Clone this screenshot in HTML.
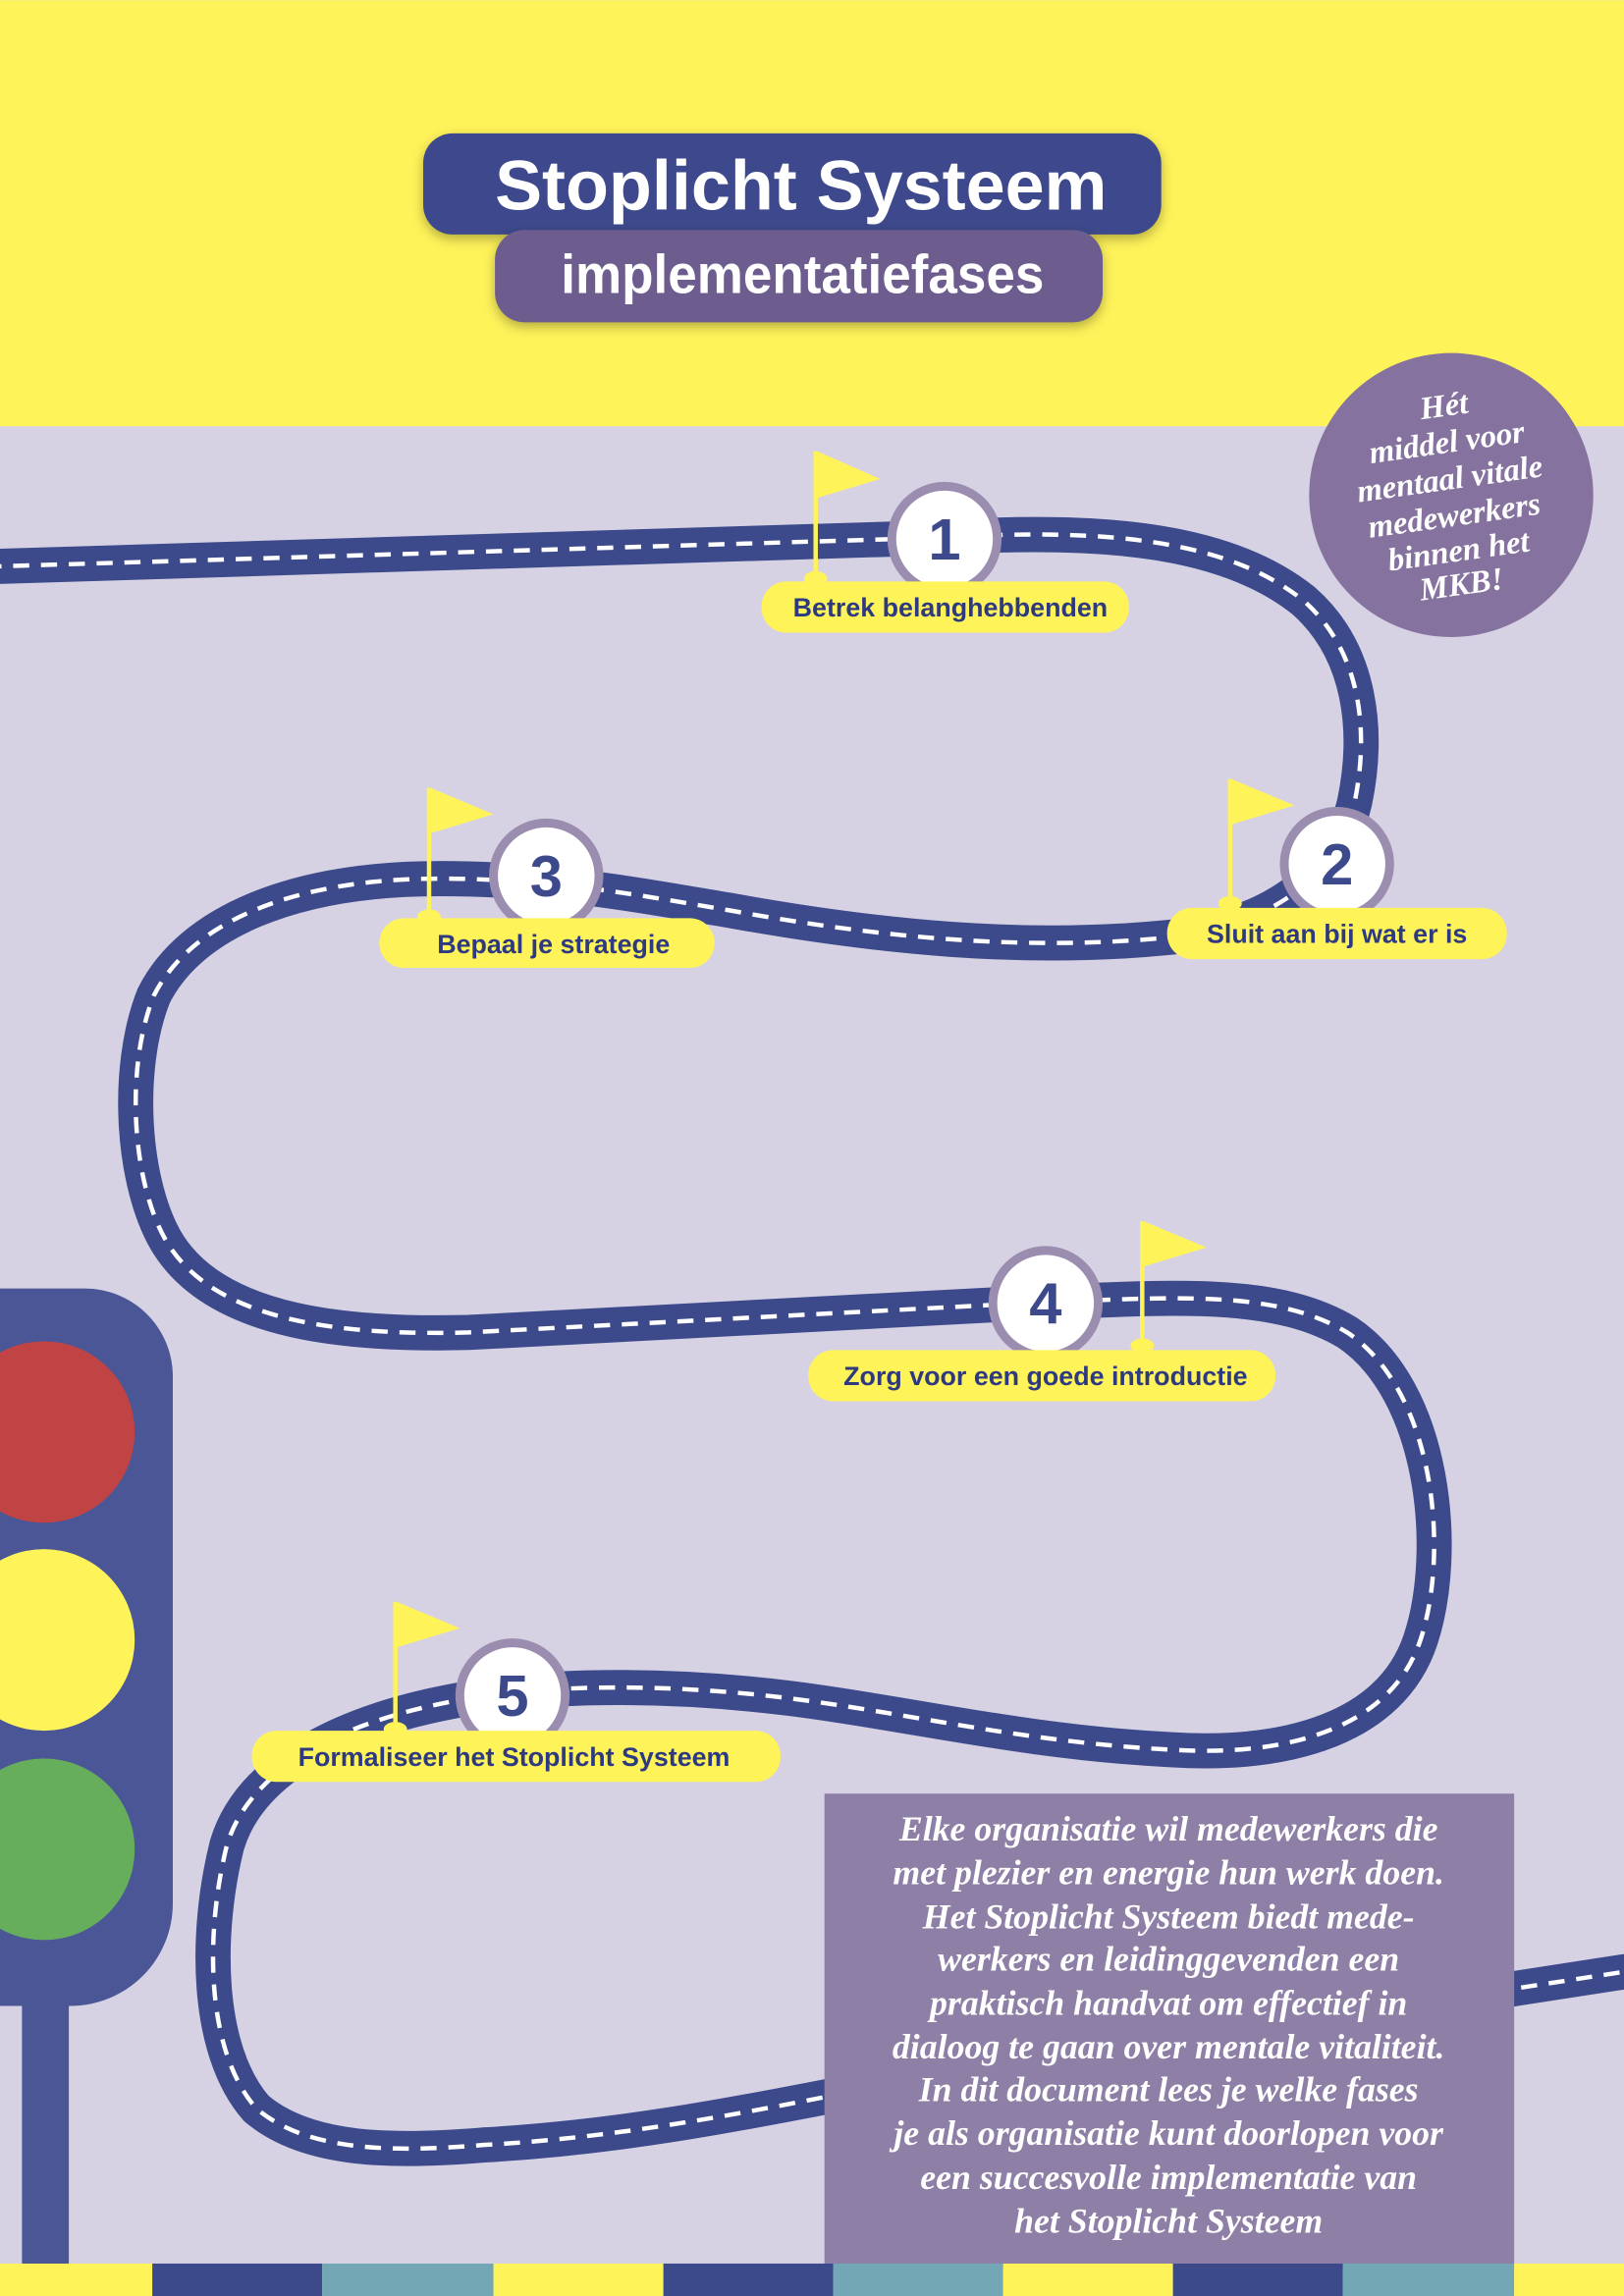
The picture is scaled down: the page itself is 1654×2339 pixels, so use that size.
<!DOCTYPE html>
<html><head><meta charset="utf-8"><style>
html,body{margin:0;padding:0;width:1654px;height:2339px;overflow:hidden;background:#d6d2e3}
svg{display:block}
</style></head><body>
<svg width="1654" height="2339" viewBox="0 0 1109 1568" xmlns="http://www.w3.org/2000/svg">
<defs>
<filter id="sh" x="-10%" y="-20%" width="120%" height="150%"><feDropShadow dx="0" dy="3" stdDeviation="4" flood-color="#000" flood-opacity="0.3"/></filter>
</defs>
<rect x="0" y="0" width="1109" height="1568" fill="#d6d2e3"/>
<rect x="0" y="0" width="1109" height="291" fill="#fff35a"/>

<!-- road -->
<path d="M -10 387 L 645 367 C 760 360 840 370 890 410 C 930 445 935 500 925 548 C 915 590 880 630 800 640 C 700 650 600 640 500 622 C 440 612 380 600 300 600 C 200 600 130 630 105 680 C 85 730 90 810 115 850 C 150 905 240 912 320 910 L 700 890 C 800 886 870 880 920 910 C 980 950 990 1060 970 1120 C 950 1180 880 1200 800 1195 C 700 1190 620 1170 540 1160 C 460 1150 380 1150 320 1160 C 230 1175 170 1210 155 1260 C 140 1320 140 1400 175 1440 C 210 1470 270 1470 330 1465 C 420 1460 500 1445 600 1425 L 1120 1345" fill="none" stroke="#3c4a8b" stroke-width="24"/>
<path d="M -10 387 L 645 367 C 760 360 840 370 890 410 C 930 445 935 500 925 548 C 915 590 880 630 800 640 C 700 650 600 640 500 622 C 440 612 380 600 300 600 C 200 600 130 630 105 680 C 85 730 90 810 115 850 C 150 905 240 912 320 910 L 700 890 C 800 886 870 880 920 910 C 980 950 990 1060 970 1120 C 950 1180 880 1200 800 1195 C 700 1190 620 1170 540 1160 C 460 1150 380 1150 320 1160 C 230 1175 170 1210 155 1260 C 140 1320 140 1400 175 1440 C 210 1470 270 1470 330 1465 C 420 1460 500 1445 600 1425 L 1120 1345" fill="none" stroke="#fff" stroke-width="3" stroke-dasharray="11 8"/>

<!-- title -->
<rect x="289" y="91" width="504" height="69" rx="20" fill="#3c4a8c" filter="url(#sh)"/>
<rect x="338" y="157" width="415" height="63" rx="20" fill="#6d5d8f" filter="url(#sh)"/>
<text x="547" y="143" text-anchor="middle" font-family="Liberation Sans, sans-serif" font-weight="bold" font-size="48" fill="#fff" textLength="418" lengthAdjust="spacingAndGlyphs">Stoplicht Systeem</text>
<text x="548" y="200" text-anchor="middle" font-family="Liberation Sans, sans-serif" font-weight="bold" font-size="37" fill="#fff" textLength="330" lengthAdjust="spacingAndGlyphs">implementatiefases</text>

<!-- top circle -->
<circle cx="991" cy="338" r="97" fill="#85729e"/>
<g font-family="Liberation Serif, serif" font-style="italic" font-weight="bold" font-size="22" fill="#fff" text-anchor="middle">
<text x="987" y="284" transform="rotate(-8 987 284)">Hét</text>
<text x="989" y="309" transform="rotate(-8 989 309)">middel voor</text>
<text x="991" y="334" transform="rotate(-8 991 334)">mentaal vitale</text>
<text x="994" y="359" transform="rotate(-8 994 359)">medewerkers</text>
<text x="997" y="383" transform="rotate(-8 997 383)">binnen het</text>
<text x="999" y="406" transform="rotate(-8 999 406)">MKB!</text>
</g>

<!-- traffic light -->
<rect x="15" y="1300" width="32" height="250" fill="#4a5696"/>
<path d="M -10 880 L 58 880 A 60 60 0 0 1 118 940 L 118 1300 A 70 70 0 0 1 48 1370 L -10 1370 Z" fill="#4a5696"/>
<circle cx="30" cy="978" r="62" fill="#c04444"/>
<circle cx="30" cy="1120" r="62" fill="#fff35a"/>
<circle cx="30" cy="1263" r="62" fill="#66ad5c"/>

<!-- flags -->
<g fill="#fff35a">
<rect x="555.5" y="308" width="3" height="88"/><polygon points="558,308 601,327 558,340"/><ellipse cx="557" cy="395" rx="8" ry="5"/>
<rect x="838.5" y="532" width="3" height="85"/><polygon points="841,532 884,550 841,563"/><ellipse cx="840" cy="617" rx="8" ry="5"/>
<rect x="291.5" y="538" width="3" height="88"/><polygon points="294,538 337,556 294,569"/><ellipse cx="293" cy="626" rx="8" ry="5"/>
<rect x="778.5" y="834" width="3" height="85"/><polygon points="781,834 824,852 781,865"/><ellipse cx="780" cy="919" rx="8" ry="5"/>
<rect x="268.5" y="1094" width="3" height="87"/><polygon points="271,1094 314,1112 271,1125"/><ellipse cx="270" cy="1181" rx="8" ry="5"/>
</g>

<!-- milestone circles -->
<g>
<circle cx="645" cy="368" r="39" fill="#9a8db0"/><circle cx="645" cy="368" r="33" fill="#fff"/>
<circle cx="913" cy="590" r="39" fill="#9a8db0"/><circle cx="913" cy="590" r="33" fill="#fff"/>
<circle cx="373" cy="598" r="39" fill="#9a8db0"/><circle cx="373" cy="598" r="33" fill="#fff"/>
<circle cx="714" cy="890" r="39" fill="#9a8db0"/><circle cx="714" cy="890" r="33" fill="#fff"/>
<circle cx="350" cy="1158" r="39" fill="#9a8db0"/><circle cx="350" cy="1158" r="33" fill="#fff"/>
</g>
<g font-family="Liberation Sans, sans-serif" font-weight="bold" font-size="40" fill="#3c4a8b" text-anchor="middle">
<text x="645" y="382">1</text>
<text x="913" y="604">2</text>
<text x="373" y="612">3</text>
<text x="714" y="904">4</text>
<text x="350" y="1172">5</text>
</g>

<!-- labels -->
<g fill="#fff35a">
<rect x="520" y="397" width="251" height="35" rx="17"/>
<rect x="797" y="620" width="232" height="35" rx="17"/>
<rect x="259" y="627" width="229" height="34" rx="17"/>
<rect x="552" y="922" width="319" height="35" rx="17"/>
<rect x="172" y="1182" width="361" height="35" rx="17"/>
</g>
<g font-family="Liberation Sans, sans-serif" font-weight="bold" font-size="18" fill="#2e3a80" text-anchor="middle">
<text x="649" y="421">Betrek belanghebbenden</text>
<text x="913" y="644">Sluit aan bij wat er is</text>
<text x="378" y="651">Bepaal je strategie</text>
<text x="714" y="946">Zorg voor een goede introductie</text>
<text x="351" y="1206">Formaliseer het Stoplicht Systeem</text>
</g>

<!-- text box -->
<rect x="563" y="1225" width="471" height="325" fill="#8e7fa6"/>
<g font-family="Liberation Serif, serif" font-style="italic" font-weight="bold" font-size="24" fill="#fff" text-anchor="middle">
<text x="798" y="1257">Elke organisatie wil medewerkers die</text>
<text x="798" y="1287">met plezier en energie hun werk doen.</text>
<text x="798" y="1317">Het Stoplicht Systeem biedt mede-</text>
<text x="798" y="1346">werkers en leidinggevenden een</text>
<text x="798" y="1376">praktisch handvat om effectief in</text>
<text x="798" y="1406">dialoog te gaan over mentale vitaliteit.</text>
<text x="798" y="1435">In dit document lees je welke fases</text>
<text x="798" y="1465">je als organisatie kunt doorlopen voor</text>
<text x="798" y="1495">een succesvolle implementatie van</text>
<text x="798" y="1525">het Stoplicht Systeem</text>
</g>

<!-- bottom stripe -->
<g>
<rect x="0" y="1546" width="104" height="23" fill="#fff35a"/>
<rect x="104" y="1546" width="116" height="23" fill="#3c4a8b"/>
<rect x="220" y="1546" width="117" height="23" fill="#73a7b5"/>
<rect x="337" y="1546" width="116" height="23" fill="#fff35a"/>
<rect x="453" y="1546" width="116" height="23" fill="#3c4a8b"/>
<rect x="569" y="1546" width="116" height="23" fill="#73a7b5"/>
<rect x="685" y="1546" width="116" height="23" fill="#fff35a"/>
<rect x="801" y="1546" width="116" height="23" fill="#3c4a8b"/>
<rect x="917" y="1546" width="117" height="23" fill="#73a7b5"/>
<rect x="1034" y="1546" width="75" height="23" fill="#fff35a"/>
</g>
</svg>
</body></html>
